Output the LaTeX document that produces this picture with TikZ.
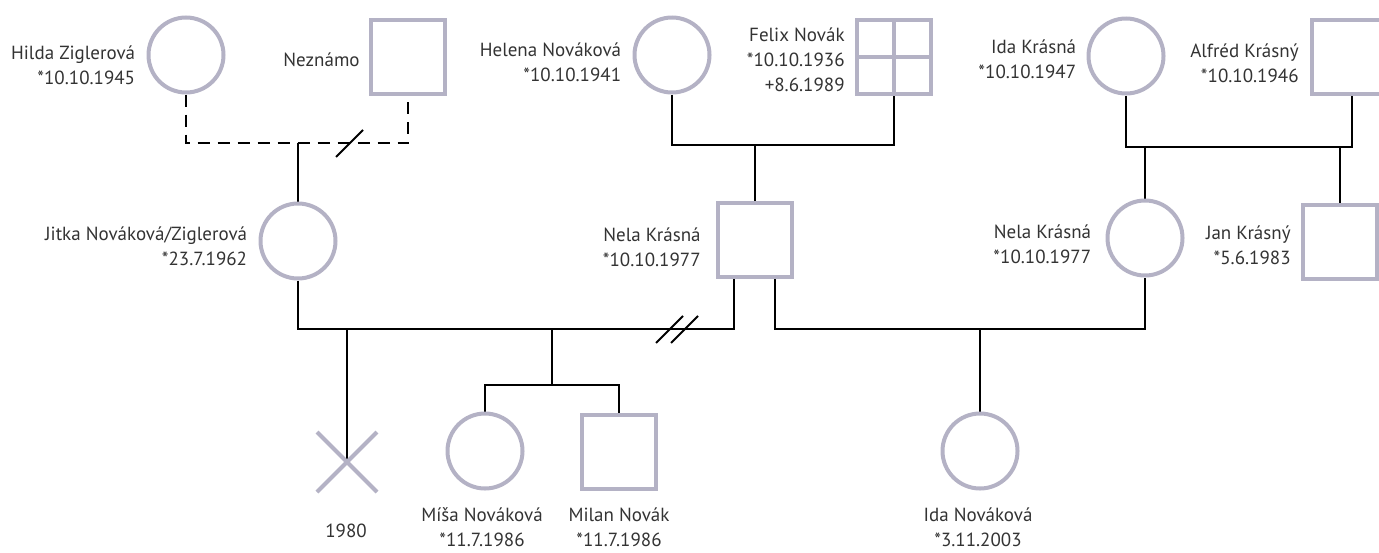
\documentclass[tikz,border=0pt]{standalone}
\usepackage{fontspec}
\setsansfont{PT Sans}
\usetikzlibrary{calc,shapes.misc,backgrounds}
\definecolor{pedgray}{RGB}{180,178,197}
\definecolor{txtgray}{RGB}{51,51,51}

\begin{document}
\begin{tikzpicture}[x=0.5pt,y=-0.5pt,
    fem/.style={shape=circle, draw=pedgray, line width=2pt, minimum size=37.5pt, inner sep=0pt},
    mal/.style={shape=rectangle, draw=pedgray, line width=2pt, minimum size=37pt, inner sep=0pt},
    lost/.style={shape=cross out, draw=pedgray, line width=2pt, minimum size=28pt, inner sep=0pt},
    txt/.style={font=\sffamily\fontsize{9.5}{12.5}\selectfont, text=txtgray, inner sep=0pt},
    lt/.style={txt, anchor=east, align=right},
    bt/.style={txt, align=center},
    ln/.style={line width=1pt, black},]
    \useasboundingbox (0,0) rectangle (1379,552);
    % grandparents
    \node [fem] (hilda) at (186,55) {};
    \node [mal] (nezn) at (408,57) {};
    \node [fem] (helena) at (672,55) {};
    \node [mal] (felix) at (894,57) {};
    \draw [pedgray, line width=2pt] (felix.north) -- (felix.south) (felix.west) -- (felix.east);
    \node [fem] (idak) at (1126,56) {};
    \node [mal] (alfred) at (1349,57) {};
    % parents
    \node [fem] (jitka) at (298,241) {};
    \node [mal] (nela) at (755,240) {};
    \node [fem] (nelak) at (1145,238) {};
    \node [mal] (jan) at (1340,242) {};
    % children
    \node [lost] (dead) at (347,462) {};
    \node [fem] (misa) at (485,451) {};
    \node [mal] (milan) at (619,452) {};
    \node [fem] (ida) at (980,451) {};

    \node [lt] (hildaL) at ([shift={(-11,10)}]hilda.west) {Hilda Ziglerová\\*10.10.1945};
    \node [lt] (neznL) at ([shift={(-9,3)}]nezn.west) {Neznámo};
    \node [lt] (helenaL) at ([shift={(-11,7)}]helena.west) {Helena Nováková\\*10.10.1941};
    \node [lt] (felixL) at ([shift={(-10,3)}]felix.west) {Felix Novák\\*10.10.1936\\+8.6.1989};
    \node [lt] (idakL) at ([shift={(-10,3)}]idak.west) {Ida Krásná\\*10.10.1947};
    \node [lt] (alfredL) at ([shift={(-11,6)}]alfred.west) {Alfréd Krásný\\*10.10.1946};
    \node [lt] (jitkaL) at ([shift={(-11,5)}]jitka.west) {Jitka Nováková/Ziglerová\\*23.7.1962};
    \node [lt] (nelaL) at ([shift={(-15,7)}]nela.west) {Nela Krásná\\*10.10.1977};
    \node [lt] (nelakL) at ([shift={(-14,6)}]nelak.west) {Nela Krásná\\*10.10.1977};
    \node [lt] (janL) at ([shift={(-10,3)}]jan.west) {Jan Krásný\\*5.6.1983};
    \node [bt] (deadL) at (346,531) {1980};
    \node [bt] (misaL) at (482,527) {Míša Nováková\\*11.7.1986};
    \node [bt] (milanL) at (619,527) {Milan Novák\\*11.7.1986};
    \node [bt] (idaL) at (978,527) {Ida Nováková\\*3.11.2003};

    \begin{scope}[on background layer]
    % Hilda + unknown
    \coordinate (m1) at (298,143);
    \draw [ln, dash pattern=on 6pt off 4pt] (hilda.south) |- (m1) -| (nezn.south);
    \draw [ln] ($(m1)+(38,14)$) -- ++(27,-27);
    \draw [ln] (m1) -- (jitka.north);
    % Helena + Felix
    \coordinate (m2) at (755,145);
    \draw [ln] (helena.south) |- (m2) -| (felix.south);
    \draw [ln] (m2) -- (nela.north);
    % Ida + Alfred
    \coordinate (m3) at (1240,147);
    \draw [ln] (idak.south) |- (m3) -| ([xshift=1.5pt]alfred.south);
    \draw [ln] (nelak.north) -- (nelak.north |- m3);
    \draw [ln] (jan.north) -- (jan.north |- m3);
    % Jitka + Nela
    \coordinate (m4) at (552,329);
    \draw [ln] (jitka.south) |- (m4) -| ([xshift=-10.5pt]nela.south);
    \draw [ln] ($(m4)+(104,14)$) -- ++(27,-27);
    \draw [ln] ($(m4)+(119,14)$) -- ++(27,-27);
    \draw [ln] (dead.center |- m4) -- (dead.center);
    \coordinate (s1) at (552,385);
    \draw [ln] (m4) -- (s1);
    \draw [ln] (misa.north) |- (s1) -| (milan.north);
    % Nela + Nela
    \coordinate (m5) at (980,329);
    \draw [ln] ([xshift=10pt]nela.south) |- (m5) -| (nelak.south);
    \draw [ln] (m5) -- (ida.north);
    \end{scope}
\end{tikzpicture}
\end{document}
